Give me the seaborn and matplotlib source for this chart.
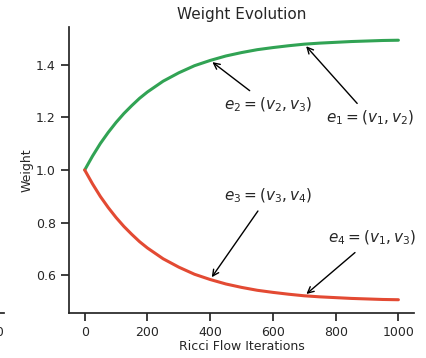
import numpy as np
import pandas as pd
import seaborn as sns
import matplotlib
matplotlib.use("Agg")
import matplotlib.pyplot as plt

# Data
iterations = [0, 25, 50, 75, 100, 125, 150, 175, 200, 250, 300, 350, 400, 450, 500,
              550, 600, 650, 700, 750, 800, 850, 900, 950, 1000]
weight_up = [1.000, 1.053, 1.101, 1.143, 1.181, 1.215, 1.245, 1.273, 1.297, 1.338,
             1.370, 1.397, 1.417, 1.434, 1.447, 1.458, 1.466, 1.473, 1.479, 1.483,
             1.486, 1.489, 1.491, 1.493, 1.494]
weight_down = [1.000, 0.947, 0.899, 0.857, 0.819, 0.785, 0.755, 0.727, 0.703, 0.662,
               0.630, 0.603, 0.583, 0.566, 0.553, 0.542, 0.534, 0.527, 0.521, 0.517,
               0.514, 0.511, 0.509, 0.507, 0.506]
edge_labels = [r"$e_1 = (v_1, v_2)$", r"$e_2 = (v_2, v_3)$",
               r"$e_3 = (v_3, v_4)$", r"$e_4 = (v_1, v_3)$"]
edge_point_iter = [700, 400, 400, 700]
edge_series = ["up", "up", "down", "down"]
edge_text_pos = [(910, 1.198), (585, 1.248), (585, 0.900), (915, 0.740)]

x_ticks = [0, 200, 400, 600, 800, 1000]
y_ticks = [0.6, 0.8, 1.0, 1.2, 1.4]
neighbour_ticks = [1000]

GREEN = "#31a354"
RED = "#e34a33"

sns.set_theme(style="ticks")
plt.rcParams["font.family"] = ["DejaVu Sans"]

df = pd.DataFrame({"Iteration": iterations * 2,
                   "Weight": weight_up + weight_down,
                   "series": ["up"] * len(iterations) + ["down"] * len(iterations)})

fig = plt.figure(figsize=(4.26, 3.58), dpi=100)

# partial neighbour panel (mostly outside the canvas, as in the reference crop)
ax0 = fig.add_axes([0.0094 - 0.810, 0.1257, 0.810, 0.799])
ax0.set_xlim(-50, 1050)
ax0.set_xticks(neighbour_ticks)
ax0.set_yticks([])
ax0.tick_params(axis="x", labelsize=9, colors="#262626")
for s in ["top", "right", "left"]:
    ax0.spines[s].set_visible(False)

ax = fig.add_axes([0.162, 0.1257, 0.810, 0.799])
sns.lineplot(data=df, x="Iteration", y="Weight", hue="series",
             palette={"up": GREEN, "down": RED}, linewidth=2.2,
             legend=False, ax=ax, sort=False)
ax.set_xlim(-50, 1050)
ax.set_ylim(0.4555, 1.5445)
ax.set_xticks(x_ticks)
ax.set_yticks(y_ticks)
ax.set_xticklabels([str(t) for t in x_ticks])
ax.set_yticklabels([f"{v:.1f}" for v in y_ticks])
ax.tick_params(labelsize=9, colors="#262626")
ax.set_xlabel("Ricci Flow Iterations", fontsize=9, labelpad=0.5)
ax.set_ylabel("Weight", fontsize=9, labelpad=1.5)
ax.set_title("Weight Evolution", fontsize=11, pad=6)
sns.despine(ax=ax)

for lab, it, ser, tp in zip(edge_labels, edge_point_iter, edge_series, edge_text_pos):
    vals = weight_up if ser == "up" else weight_down
    yv = vals[iterations.index(it)]
    ax.annotate(lab, xy=(it, yv), xytext=tp, ha="center", va="center",
                fontsize=11,
                arrowprops=dict(arrowstyle="->", color="black", lw=1))

fig.savefig("out.png", dpi=100)
